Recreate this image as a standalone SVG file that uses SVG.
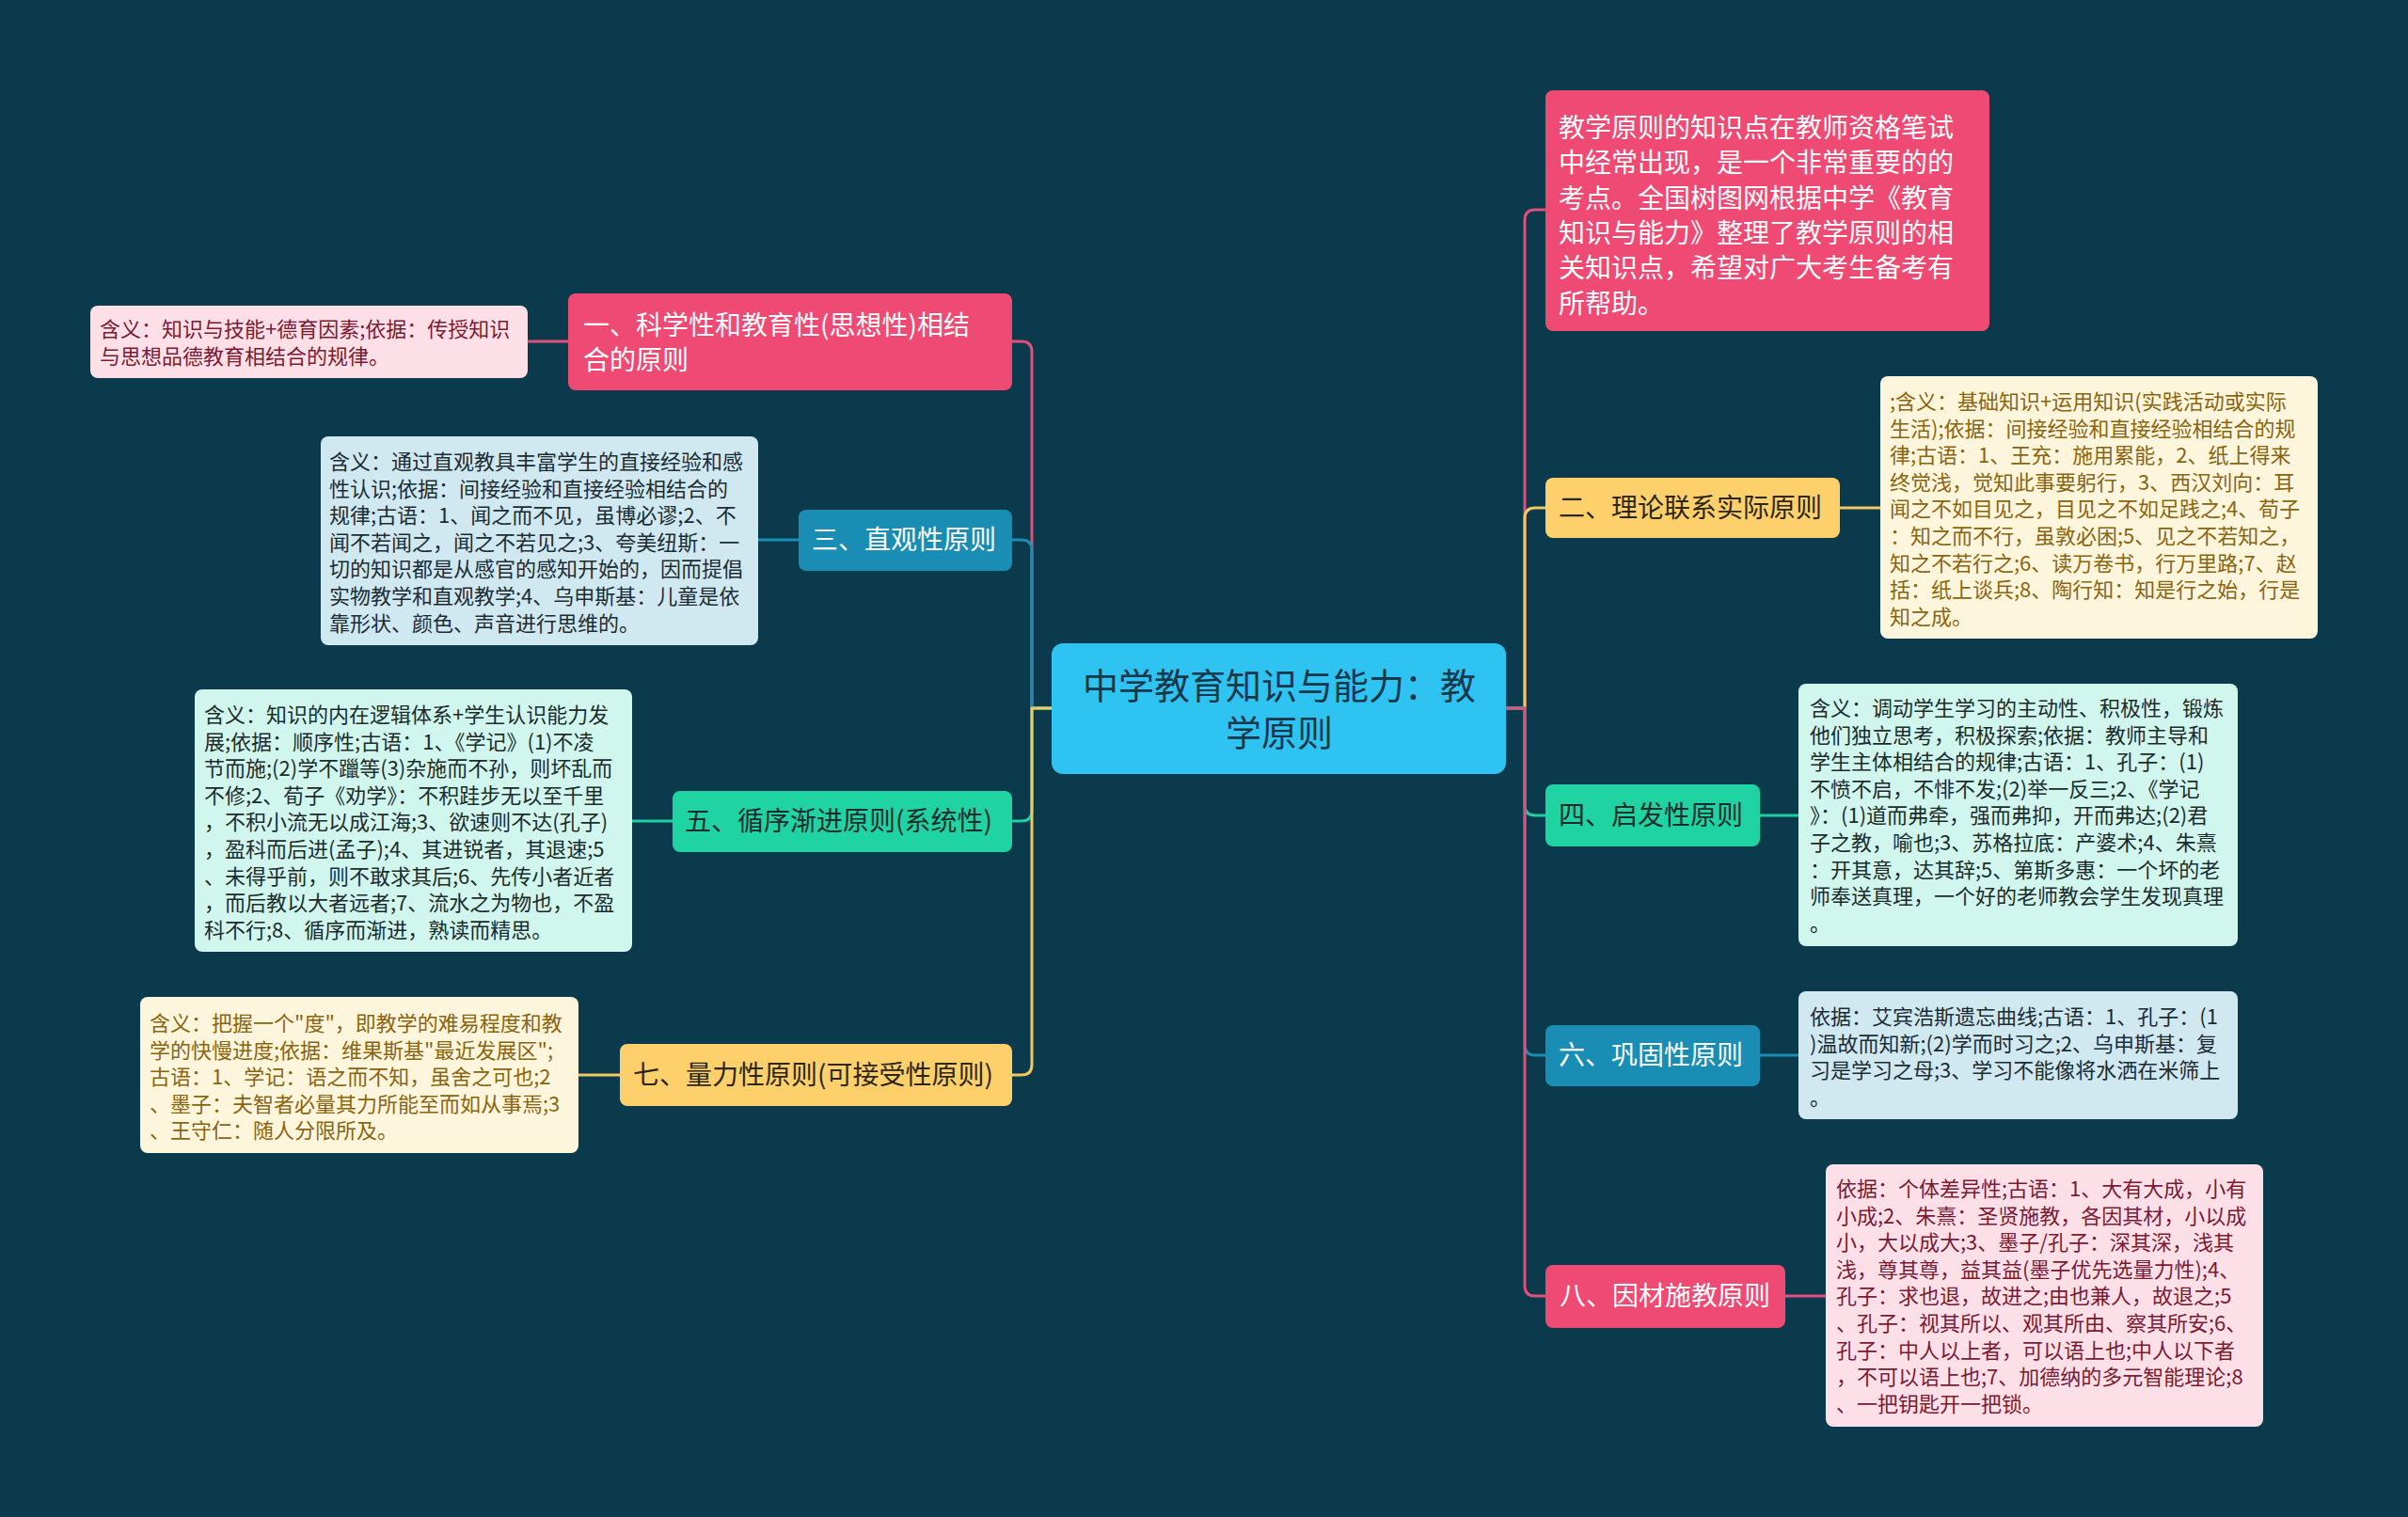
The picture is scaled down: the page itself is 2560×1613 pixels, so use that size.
<svg xmlns="http://www.w3.org/2000/svg" width="2560" height="1613" viewBox="0 0 2560 1613">
<style>
text{font-family:"Noto Sans CJK SC","Noto Sans",sans-serif;}
.main{font-size:28px;}
.leaf{font-size:22px;}
.c{fill:none;stroke-width:3;stroke-linecap:round;stroke-linejoin:round;}
.pk{stroke:#e0507a;} .yl{stroke:#f2c862;} .gr{stroke:#1fcf9f;} .bl{stroke:#1a8db5;}
</style>
<rect x="0" y="0" width="2560" height="1613" fill="#0b3a4d"/>
<g id="connectors">
<path class="c pk" d="M1118 753 H1097 V374 Q1097 363 1086 363 H1076"/>
<path class="c bl" d="M1118 753 H1097 V585 Q1097 574 1086 574 H1076"/>
<path class="c gr" d="M1118 753 H1097 V862 Q1097 873 1086 873 H1076"/>
<path class="c yl" d="M1118 753 H1097 V1132 Q1097 1143 1086 1143 H1076"/>
<path class="c pk" d="M1601 753 H1621 V234 Q1621 223 1632 223 H1643"/>
<path class="c yl" d="M1601 753 H1621 V551 Q1621 540 1632 540 H1643"/>
<path class="c gr" d="M1601 753 H1621 V856 Q1621 867 1632 867 H1643"/>
<path class="c bl" d="M1601 753 H1621 V1111 Q1621 1122 1632 1122 H1643"/>
<path class="c pk" d="M1601 753 H1621 V1367 Q1621 1378 1632 1378 H1643"/>
<path class="c pk" d="M561 363 H604"/>
<path class="c bl" d="M806 574 H849"/>
<path class="c gr" d="M672 873 H715"/>
<path class="c yl" d="M615 1143 H659"/>
<path class="c yl" d="M1956 540 H1999"/>
<path class="c gr" d="M1871 867 H1912"/>
<path class="c bl" d="M1871 1122 H1912"/>
<path class="c pk" d="M1898 1378 H1941"/>
</g>
<g id="center">
<rect x="1118" y="684" width="483" height="139" rx="12" fill="#2ec3f1"/>
<text x="1360" y="743" font-size="38" fill="#17384a" text-anchor="middle">中学教育知识与能力：教</text>
<text x="1360" y="793" font-size="38" fill="#17384a" text-anchor="middle">学原则</text>
</g>
<g id="intro">
<rect x="1643" y="96" width="472" height="256" rx="8" fill="#ef4a73"/>
<g class="main" fill="#ffffff">
<text x="1657" y="146">教学原则的知识点在教师资格笔试</text>
<text x="1657" y="183.3">中经常出现，是一个非常重要的的</text>
<text x="1657" y="220.6">考点。全国树图网根据中学《教育</text>
<text x="1657" y="257.9">知识与能力》整理了教学原则的相</text>
<text x="1657" y="295.2">关知识点，希望对广大考生备考有</text>
<text x="1657" y="332.5">所帮助。</text>
</g>
</g>
<g id="n1">
<rect x="604" y="312" width="472" height="103" rx="8" fill="#ef4a73"/>
<text class="main" x="620" y="356" fill="#ffffff">一、科学性和教育性(思想性)相结</text>
<text class="main" x="620" y="393" fill="#ffffff">合的原则</text>
</g>
<g id="n1-leaf">
<rect x="96" y="325" width="465" height="77" rx="8" fill="#fde0e7"/>
<g class="leaf" fill="#7a1a33">
<text x="106" y="358">含义：知识与技能+德育因素;依据：传授知识</text>
<text x="106" y="386.6">与思想品德教育相结合的规律。</text>
</g>
</g>
<g id="n3">
<rect x="849" y="542" width="227" height="65" rx="8" fill="#1a8db5"/>
<text class="main" x="863" y="584" fill="#ffffff">三、直观性原则</text>
</g>
<g id="n3-leaf">
<rect x="341" y="464" width="465" height="222" rx="8" fill="#d0e8f0"/>
<g class="leaf" fill="#1c2c34">
<text x="350" y="499">含义：通过直观教具丰富学生的直接经验和感</text>
<text x="350" y="527.6">性认识;依据：间接经验和直接经验相结合的</text>
<text x="350" y="556.2">规律;古语：1、闻之而不见，虽博必谬;2、不</text>
<text x="350" y="584.8">闻不若闻之，闻之不若见之;3、夸美纽斯：一</text>
<text x="350" y="613.4">切的知识都是从感官的感知开始的，因而提倡</text>
<text x="350" y="642">实物教学和直观教学;4、乌申斯基：儿童是依</text>
<text x="350" y="670.6">靠形状、颜色、声音进行思维的。</text>
</g>
</g>
<g id="n5">
<rect x="715" y="841" width="361" height="65" rx="8" fill="#1fd3a2"/>
<text class="main" x="728" y="883" fill="#1d2b2b">五、循序渐进原则(系统性)</text>
</g>
<g id="n5-leaf">
<rect x="207" y="733" width="465" height="279" rx="8" fill="#d0f6ed"/>
<g class="leaf" fill="#1c2c2c">
<text x="217" y="768">含义：知识的内在逻辑体系+学生认识能力发</text>
<text x="217" y="796.6">展;依据：顺序性;古语：1、《学记》(1)不凌</text>
<text x="217" y="825.2">节而施;(2)学不躐等(3)杂施而不孙，则坏乱而</text>
<text x="217" y="853.8">不修;2、荀子《劝学》：不积跬步无以至千里</text>
<text x="217" y="882.4">，不积小流无以成江海;3、欲速则不达(孔子)</text>
<text x="217" y="911">，盈科而后进(孟子);4、其进锐者，其退速;5</text>
<text x="217" y="939.6">、未得乎前，则不敢求其后;6、先传小者近者</text>
<text x="217" y="968.2">，而后教以大者远者;7、流水之为物也，不盈</text>
<text x="217" y="996.8">科不行;8、循序而渐进，熟读而精思。</text>
</g>
</g>
<g id="n7">
<rect x="659" y="1110" width="417" height="66" rx="8" fill="#fdd06b"/>
<text class="main" x="673" y="1153" fill="#2b2616">七、量力性原则(可接受性原则)</text>
</g>
<g id="n7-leaf">
<rect x="149" y="1060" width="466" height="166" rx="8" fill="#fdf5dc"/>
<g class="leaf" fill="#8a6510">
<text x="159" y="1096">含义：把握一个"度"，即教学的难易程度和教</text>
<text x="159" y="1124.6">学的快慢进度;依据：维果斯基"最近发展区";</text>
<text x="159" y="1153.2">古语：1、学记：语之而不知，虽舍之可也;2</text>
<text x="159" y="1181.8">、墨子：夫智者必量其力所能至而如从事焉;3</text>
<text x="159" y="1210.4">、王守仁：随人分限所及。</text>
</g>
</g>
<g id="n2">
<rect x="1643" y="508" width="313" height="64" rx="8" fill="#fdd06b"/>
<text class="main" x="1657" y="550" fill="#2b2616">二、理论联系实际原则</text>
</g>
<g id="n2-leaf">
<rect x="1999" y="400" width="465" height="279" rx="8" fill="#fdf5dc"/>
<g class="leaf" fill="#8a6510">
<text x="2009" y="435">;含义：基础知识+运用知识(实践活动或实际</text>
<text x="2009" y="463.6">生活);依据：间接经验和直接经验相结合的规</text>
<text x="2009" y="492.2">律;古语：1、王充：施用累能，2、纸上得来</text>
<text x="2009" y="520.8">终觉浅，觉知此事要躬行，3、西汉刘向：耳</text>
<text x="2009" y="549.4">闻之不如目见之，目见之不如足践之;4、荀子</text>
<text x="2009" y="578">：知之而不行，虽敦必困;5、见之不若知之，</text>
<text x="2009" y="606.6">知之不若行之;6、读万卷书，行万里路;7、赵</text>
<text x="2009" y="635.2">括：纸上谈兵;8、陶行知：知是行之始，行是</text>
<text x="2009" y="663.8">知之成。</text>
</g>
</g>
<g id="n4">
<rect x="1643" y="834" width="228" height="66" rx="8" fill="#1fd3a2"/>
<text class="main" x="1657" y="877" fill="#1d2b2b">四、启发性原则</text>
</g>
<g id="n4-leaf">
<rect x="1912" y="727" width="467" height="279" rx="8" fill="#d0f6ed"/>
<g class="leaf" fill="#1c2c2c">
<text x="1924" y="761">含义：调动学生学习的主动性、积极性，锻炼</text>
<text x="1924" y="789.6">他们独立思考，积极探索;依据：教师主导和</text>
<text x="1924" y="818.2">学生主体相结合的规律;古语：1、孔子：(1)</text>
<text x="1924" y="846.8">不愤不启，不悱不发;(2)举一反三;2、《学记</text>
<text x="1924" y="875.4">》：(1)道而弗牵，强而弗抑，开而弗达;(2)君</text>
<text x="1924" y="904">子之教，喻也;3、苏格拉底：产婆术;4、朱熹</text>
<text x="1924" y="932.6">：开其意，达其辞;5、第斯多惠：一个坏的老</text>
<text x="1924" y="961.2">师奉送真理，一个好的老师教会学生发现真理</text>
<text x="1924" y="989.8">。</text>
</g>
</g>
<g id="n6">
<rect x="1643" y="1090" width="228" height="65" rx="8" fill="#1a8db5"/>
<text class="main" x="1657" y="1132" fill="#ffffff">六、巩固性原则</text>
</g>
<g id="n6-leaf">
<rect x="1912" y="1054" width="467" height="136" rx="8" fill="#d0e8f0"/>
<g class="leaf" fill="#1c2c34">
<text x="1924" y="1089">依据：艾宾浩斯遗忘曲线;古语：1、孔子：(1</text>
<text x="1924" y="1117.6">)温故而知新;(2)学而时习之;2、乌申斯基：复</text>
<text x="1924" y="1146.2">习是学习之母;3、学习不能像将水洒在米筛上</text>
<text x="1924" y="1174.8">。</text>
</g>
</g>
<g id="n8">
<rect x="1643" y="1345" width="255" height="67" rx="8" fill="#ef4a73"/>
<text class="main" x="1658" y="1388" fill="#ffffff">八、因材施教原则</text>
</g>
<g id="n8-leaf">
<rect x="1941" y="1238" width="465" height="279" rx="8" fill="#fde0e7"/>
<g class="leaf" fill="#7a1a33">
<text x="1952" y="1272">依据：个体差异性;古语：1、大有大成，小有</text>
<text x="1952" y="1300.6">小成;2、朱熹：圣贤施教，各因其材，小以成</text>
<text x="1952" y="1329.2">小，大以成大;3、墨子/孔子：深其深，浅其</text>
<text x="1952" y="1357.8">浅，尊其尊，益其益(墨子优先选量力性);4、</text>
<text x="1952" y="1386.4">孔子：求也退，故进之;由也兼人，故退之;5</text>
<text x="1952" y="1415">、孔子：视其所以、观其所由、察其所安;6、</text>
<text x="1952" y="1443.6">孔子：中人以上者，可以语上也;中人以下者</text>
<text x="1952" y="1472.2">，不可以语上也;7、加德纳的多元智能理论;8</text>
<text x="1952" y="1500.8">、一把钥匙开一把锁。</text>
</g>
</g>
</svg>
